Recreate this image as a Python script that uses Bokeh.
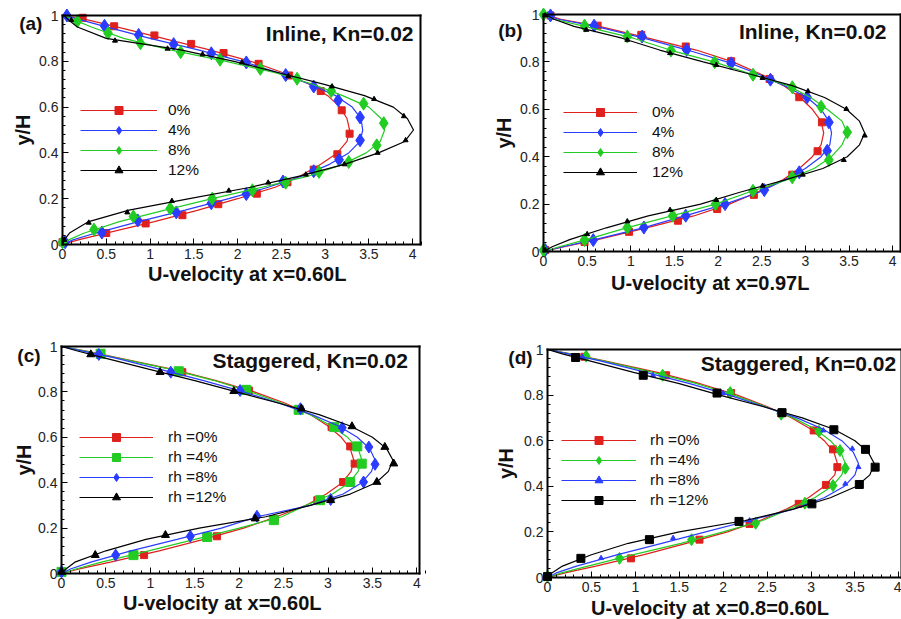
import math
from bokeh.plotting import figure
from bokeh.layouts import column, row
from bokeh.models import Range1d, FixedTicker, Label, LinearAxis
from bokeh.embed import file_html
from bokeh.resources import INLINE

FONT = "Liberation Sans"

# ---------------- data ----------------
Y_LINE = [1.0, 0.98, 0.95, 0.9, 0.85, 0.8, 0.75, 0.7, 0.65, 0.6, 0.55, 0.5,
          0.45, 0.4, 0.35, 0.3, 0.25, 0.2, 0.15, 0.1, 0.05, 0.02, 0.0]

X_TICKS = [0, 0.5, 1, 1.5, 2, 2.5, 3, 3.5, 4]
X_TICK_LABELS = ["0", "0.5", "1", "1.5", "2", "2.5", "3", "3.5", "4"]
Y_TICKS = [0, 0.2, 0.4, 0.6, 0.8, 1]
Y_TICK_LABELS = ["0", "0.2", "0.4", "0.6", "0.8", "1"]
X_MINOR = [round(i * 0.1, 1) for i in range(42)]
Y_MINOR = [round(i * 0.04, 2) for i in range(26)]

LABELS_AB = ["0%", "4%", "8%", "12%"]
LABELS_CD = ["rh =0%", "rh =4%", "rh =8%", "rh =12%"]

# panel (a) Inline, x=0.60L
A_U_0 = [0.02, 0.3, 0.62, 1.15, 1.68, 2.15, 2.52, 2.82, 3.03, 3.17, 3.25, 3.28, 3.25, 3.14, 2.95, 2.72, 2.43, 2.0, 1.55, 1.05, 0.5, 0.18, 0.0]
A_U_4 = [0.02, 0.22, 0.5, 1.0, 1.55, 2.05, 2.47, 2.83, 3.12, 3.31, 3.41, 3.43, 3.4, 3.27, 3.05, 2.75, 2.35, 1.9, 1.4, 0.87, 0.38, 0.12, 0.0]
A_U_8 = [0.02, 0.14, 0.33, 0.7, 1.23, 1.87, 2.43, 2.86, 3.2, 3.5, 3.64, 3.68, 3.63, 3.47, 3.2, 2.82, 2.28, 1.71, 1.17, 0.65, 0.25, 0.07, 0.0]
A_U_12 = [0.02, 0.07, 0.17, 0.5, 1.35, 1.96, 2.47, 2.98, 3.45, 3.78, 3.94, 4.01, 3.91, 3.61, 3.22, 2.72, 2.15, 1.45, 0.76, 0.3, 0.08, 0.02, 0.0]
A_MU_0 = [0.23, 0.59, 1.05, 1.47, 1.84, 2.24, 2.59, 2.95, 3.19, 3.28, 3.14, 2.87, 2.57, 2.22, 1.78, 1.37, 0.95, 0.5, 0.0]
A_MY_0 = [0.99, 0.953, 0.913, 0.876, 0.836, 0.789, 0.738, 0.67, 0.586, 0.484, 0.394, 0.327, 0.272, 0.222, 0.176, 0.128, 0.092, 0.05, 0.01]
A_MU_4 = [0.05, 0.48, 0.87, 1.27, 1.7, 2.1, 2.55, 2.87, 3.15, 3.4, 3.4, 3.16, 2.87, 2.52, 2.1, 1.7, 1.3, 0.86, 0.45, 0.03]
A_MY_4 = [1.0, 0.955, 0.915, 0.875, 0.835, 0.795, 0.74, 0.69, 0.63, 0.555, 0.455, 0.37, 0.32, 0.275, 0.22, 0.18, 0.14, 0.105, 0.052, 0.01]
A_MU_8 = [0.17, 0.52, 0.89, 1.35, 1.8, 2.26, 2.68, 3.07, 3.44, 3.67, 3.59, 3.27, 2.93, 2.55, 2.17, 1.71, 1.23, 0.81, 0.36, 0.0]
A_MY_8 = [0.975, 0.923, 0.879, 0.84, 0.807, 0.767, 0.724, 0.67, 0.615, 0.53, 0.433, 0.36, 0.317, 0.27, 0.237, 0.2, 0.157, 0.122, 0.065, 0.01]
A_MU_12 = [0.1, 0.6, 1.2, 1.6, 2.05, 2.58, 3.08, 3.56, 3.9, 3.92, 3.6, 3.22, 2.78, 2.35, 1.9, 1.25, 0.74, 0.3, 0.02]
A_MY_12 = [0.98, 0.89, 0.855, 0.83, 0.795, 0.735, 0.69, 0.635, 0.56, 0.455, 0.4, 0.35, 0.305, 0.27, 0.235, 0.19, 0.14, 0.095, 0.02]

# panel (b) Inline, x=0.97L
B_U_0 = [0.02, 0.2, 0.64, 1.2, 1.75, 2.17, 2.48, 2.75, 2.94, 3.08, 3.18, 3.21, 3.18, 3.08, 2.93, 2.73, 2.45, 2.13, 1.72, 1.18, 0.62, 0.24, 0.0]
B_U_4 = [0.02, 0.17, 0.6, 1.15, 1.65, 2.1, 2.45, 2.76, 3.02, 3.18, 3.27, 3.3, 3.28, 3.18, 3.0, 2.75, 2.47, 2.08, 1.62, 1.14, 0.59, 0.22, 0.0]
B_U_8 = [0.0, 0.12, 0.47, 1.03, 1.45, 1.95, 2.37, 2.8, 3.06, 3.25, 3.42, 3.48, 3.42, 3.3, 3.1, 2.77, 2.35, 1.97, 1.47, 0.95, 0.49, 0.18, 0.0]
B_U_12 = [0.02, 0.12, 0.35, 0.9, 1.33, 1.83, 2.35, 2.85, 3.22, 3.47, 3.62, 3.68, 3.62, 3.48, 3.2, 2.75, 2.25, 1.8, 1.2, 0.72, 0.3, 0.1, 0.0]
B_MU_0 = [0.08, 0.62, 1.12, 1.63, 2.15, 2.59, 2.93, 3.19, 3.14, 2.85, 2.41, 1.99, 1.54, 0.98, 0.47, 0.02]
B_MY_0 = [0.996, 0.953, 0.914, 0.865, 0.803, 0.728, 0.651, 0.545, 0.423, 0.324, 0.239, 0.179, 0.13, 0.083, 0.04, 0.006]
B_MU_4 = [0.08, 0.58, 1.13, 1.64, 2.15, 2.6, 3.02, 3.27, 3.25, 2.93, 2.53, 2.08, 1.63, 1.15, 0.57, 0.02]
B_MY_4 = [0.996, 0.953, 0.907, 0.851, 0.794, 0.725, 0.651, 0.545, 0.425, 0.334, 0.259, 0.2, 0.151, 0.101, 0.048, 0.006]
B_MU_8 = [0.0, 0.47, 0.96, 1.46, 1.96, 2.4, 2.85, 3.18, 3.48, 3.27, 2.85, 2.4, 1.97, 1.48, 0.96, 0.47, 0.0]
B_MY_8 = [1.0, 0.953, 0.907, 0.848, 0.799, 0.746, 0.693, 0.611, 0.503, 0.386, 0.313, 0.256, 0.2, 0.151, 0.101, 0.048, 0.005]
B_MU_12 = [0.02, 0.49, 0.96, 1.45, 1.98, 2.51, 3.03, 3.47, 3.68, 3.44, 2.97, 2.51, 1.98, 1.45, 0.96, 0.5, 0.02]
B_MY_12 = [0.996, 0.935, 0.893, 0.837, 0.787, 0.732, 0.676, 0.601, 0.489, 0.386, 0.324, 0.277, 0.217, 0.175, 0.127, 0.073, 0.006]

# panel (c) Staggered, x=0.60L
C_U_0 = [0.0, 0.28, 0.64, 1.24, 1.74, 2.17, 2.52, 2.8, 3.0, 3.15, 3.25, 3.29, 3.26, 3.16, 2.98, 2.75, 2.42, 2.05, 1.6, 1.1, 0.55, 0.2, 0.0]
C_U_4 = [0.0, 0.27, 0.62, 1.22, 1.72, 2.13, 2.48, 2.8, 3.04, 3.22, 3.34, 3.38, 3.34, 3.24, 3.05, 2.75, 2.48, 2.0, 1.5, 0.98, 0.45, 0.16, 0.0]
C_U_8 = [0.0, 0.24, 0.6, 1.1, 1.6, 2.05, 2.45, 2.82, 3.12, 3.33, 3.47, 3.53, 3.49, 3.38, 3.17, 2.8, 2.2, 1.8, 1.3, 0.78, 0.33, 0.1, 0.0]
C_U_12 = [0.0, 0.18, 0.48, 0.98, 1.5, 1.97, 2.45, 2.9, 3.25, 3.5, 3.66, 3.73, 3.68, 3.54, 3.25, 2.8, 2.3, 1.55, 0.95, 0.5, 0.15, 0.05, 0.0]
C_MU_0 = [0.44, 1.36, 2.11, 2.67, 3.04, 3.25, 3.3, 3.17, 2.88, 2.4, 1.75, 0.93, 0.0]
C_MY_0 = [0.968, 0.887, 0.806, 0.721, 0.645, 0.56, 0.484, 0.403, 0.323, 0.24, 0.164, 0.081, 0.007]
C_MU_4 = [0.44, 1.32, 2.08, 2.67, 3.07, 3.33, 3.38, 3.25, 2.91, 2.39, 1.64, 0.81, 0.0]
C_MY_4 = [0.968, 0.891, 0.809, 0.721, 0.645, 0.56, 0.484, 0.403, 0.323, 0.235, 0.161, 0.081, 0.007]
C_MU_8 = [0.42, 1.23, 2.01, 2.69, 3.16, 3.46, 3.53, 3.4, 3.03, 2.2, 1.45, 0.61, 0.0]
C_MY_8 = [0.965, 0.887, 0.806, 0.726, 0.642, 0.557, 0.481, 0.403, 0.326, 0.252, 0.164, 0.081, 0.007]
C_MU_12 = [0.33, 1.11, 1.94, 2.7, 3.27, 3.64, 3.74, 3.55, 3.03, 2.18, 1.17, 0.38, 0.0]
C_MY_12 = [0.965, 0.887, 0.803, 0.726, 0.648, 0.557, 0.484, 0.403, 0.323, 0.242, 0.169, 0.081, 0.007]

# panel (d) Staggered, x=0.8=0.60L
D_U_0 = [0.0, 0.28, 0.65, 1.25, 1.74, 2.16, 2.5, 2.78, 3.0, 3.15, 3.26, 3.3, 3.27, 3.15, 2.97, 2.72, 2.42, 2.05, 1.58, 1.1, 0.55, 0.2, 0.0]
D_U_4 = [0.0, 0.27, 0.63, 1.2, 1.7, 2.12, 2.48, 2.8, 3.05, 3.22, 3.34, 3.39, 3.35, 3.24, 3.04, 2.75, 2.45, 2.0, 1.52, 0.98, 0.46, 0.16, 0.0]
D_U_8 = [0.0, 0.25, 0.6, 1.12, 1.62, 2.07, 2.46, 2.84, 3.14, 3.35, 3.48, 3.54, 3.5, 3.38, 3.15, 2.8, 2.3, 1.8, 1.3, 0.8, 0.33, 0.1, 0.0]
D_U_12 = [0.0, 0.18, 0.48, 0.98, 1.5, 1.96, 2.45, 2.9, 3.26, 3.5, 3.65, 3.72, 3.67, 3.52, 3.22, 2.8, 2.25, 1.5, 0.92, 0.5, 0.17, 0.05, 0.0]
D_MU_0 = [0.42, 1.35, 2.09, 2.66, 3.03, 3.25, 3.3, 3.17, 2.86, 2.3, 1.73, 0.95, 0.0]
D_MY_0 = [0.968, 0.887, 0.809, 0.72, 0.645, 0.562, 0.484, 0.406, 0.323, 0.235, 0.166, 0.084, 0.005]
D_MU_4 = [0.44, 1.31, 2.08, 2.66, 3.09, 3.33, 3.39, 3.25, 2.93, 2.37, 1.64, 0.82, 0.0]
D_MY_4 = [0.971, 0.887, 0.811, 0.716, 0.641, 0.557, 0.479, 0.403, 0.326, 0.238, 0.166, 0.084, 0.005]
D_MU_8 = [0.4, 1.2, 2.0, 2.64, 3.14, 3.47, 3.54, 3.39, 3.0, 2.3, 1.43, 0.61, 0.0]
D_MY_8 = [0.966, 0.887, 0.808, 0.726, 0.645, 0.565, 0.484, 0.411, 0.33, 0.25, 0.173, 0.085, 0.005]
D_MU_12 = [0.32, 1.09, 1.93, 2.67, 3.26, 3.62, 3.73, 3.55, 3.01, 2.18, 1.16, 0.38, 0.0]
D_MY_12 = [0.965, 0.887, 0.809, 0.723, 0.648, 0.562, 0.484, 0.408, 0.323, 0.246, 0.166, 0.084, 0.004]

# ---------------- styles ----------------
RED = "#e0201c"
BLUE = "#2a3cff"
GREEN = "#22cc22"
BLACK = "#000000"
TXT = "#111111"


def style_axis(ax, ticks, minor, labels):
    ax.ticker = FixedTicker(ticks=ticks, minor_ticks=minor)
    if labels:
        ax.major_label_overrides = dict(zip(ticks, labels))
    ax.axis_line_color = "black"
    ax.axis_line_width = 2
    ax.axis_line_cap = "square"
    ax.major_tick_in = 6
    ax.major_tick_out = 0
    ax.minor_tick_in = 3
    ax.minor_tick_out = 0
    ax.major_tick_line_color = "black"
    ax.minor_tick_line_color = "black"
    ax.major_label_text_font = FONT
    ax.major_label_text_font_size = "14px"
    ax.major_label_text_color = "#222222"
    ax.major_label_standoff = 4


def add_text(p, x, y, text, size, align="center", angle=0.0):
    p.add_layout(Label(x=x, y=y, text=text, text_align=align,
                       text_baseline="middle", angle=angle, text_font=FONT,
                       text_font_size=size, text_font_style="bold",
                       text_color=TXT))


def panel(W, H, L, T, FW, FH, XR, series, legend_xy, glyph_w, standoff,
          tag, tag_xy, title, title_xy, xlabel, xlabel_xy, ylabel_x):
    ppx = FW / XR
    x0, x1 = -L / ppx, (W - L) / ppx
    y0, y1 = -(H - T - FH) / FH, 1 + T / FH
    p = figure(width=W, height=H, x_range=Range1d(x0, x1), y_range=Range1d(y0, y1),
               x_axis_type=None, y_axis_type=None,
               min_border_left=0, min_border_right=0, min_border_top=0, min_border_bottom=0,
               output_backend="svg", toolbar_location=None)
    p.outline_line_color = None
    p.background_fill_color = "white"
    p.border_fill_color = "white"

    xb = LinearAxis(fixed_location=0, bounds=(0, XR))
    style_axis(xb, X_TICKS, X_MINOR, X_TICK_LABELS)
    p.add_layout(xb, "below")
    yl = LinearAxis(fixed_location=0, bounds=(0, 1))
    style_axis(yl, Y_TICKS, Y_MINOR, Y_TICK_LABELS)
    p.add_layout(yl, "left")
    xt = LinearAxis(fixed_location=1, bounds=(0, XR))
    style_axis(xt, [], [], None)
    xt.major_label_text_alpha = 0
    p.add_layout(xt, "above")
    yr = LinearAxis(fixed_location=XR, bounds=(0, 1))
    style_axis(yr, [], [], None)
    yr.major_label_text_alpha = 0
    p.add_layout(yr, "right")

    for label, color, u, mu, my, marker, size in series:
        p.line(u, Y_LINE, line_color=color, line_width=1.2, legend_label=label)
        p.scatter(mu, my, marker=marker, size=size, fill_color=color,
                  line_color=color, legend_label=label)

    leg = p.legend[0]
    leg.location = (L + legend_xy[0], (H - T - FH) + legend_xy[1])
    leg.border_line_color = None
    leg.background_fill_alpha = 0
    leg.padding = 0
    leg.margin = 0
    leg.spacing = 0
    leg.glyph_width = glyph_w
    leg.glyph_height = 20
    leg.label_height = 20
    leg.label_standoff = standoff
    leg.label_text_font = FONT
    leg.label_text_font_size = "15.5px"
    leg.label_text_color = TXT

    add_text(p, tag_xy[0], tag_xy[1], tag, "19px", align="right")
    add_text(p, title_xy[0], title_xy[1], title, "21px", align="right")
    add_text(p, xlabel_xy[0], xlabel_xy[1], xlabel, "20px")
    add_text(p, ylabel_x, 0.5, "y/H", "20px", angle=math.pi / 2)
    return p


pa = panel(450, 300, 62, 15, 358, 229, 4.09,
           [(LABELS_AB[0], RED, A_U_0, A_MU_0, A_MY_0, "square", 7),
            (LABELS_AB[1], BLUE, A_U_4, A_MU_4, A_MY_4, "diamond", 13),
            (LABELS_AB[2], GREEN, A_U_8, A_MU_8, A_MY_8, "diamond", 13),
            (LABELS_AB[3], BLACK, A_U_12, A_MU_12, A_MY_12, "triangle", 5)],
           (18, 64), 77, 11,
           "(a)", (-0.23, 0.965), "Inline, Kn=0.02", (4.01, 0.921),
           "U-velocity at x=0.60L", (2.11, -0.127), -0.446)

pb = panel(451, 300, 93, 14, 357, 237, 4.09,
           [(LABELS_AB[0], RED, B_U_0, B_MU_0, B_MY_0, "square", 7),
            (LABELS_AB[1], BLUE, B_U_4, B_MU_4, B_MY_4, "diamond", 13),
            (LABELS_AB[2], GREEN, B_U_8, B_MU_8, B_MY_8, "diamond", 13),
            (LABELS_AB[3], BLACK, B_U_12, B_MU_12, B_MY_12, "triangle", 5)],
           (20, 69), 74, 15,
           "(b)", (-0.24, 0.932), "Inline, Kn=0.02", (3.93, 0.928),
           "U-velocity at x=0.97L", (1.91, -0.131), -0.458)

pc = panel(450, 319, 61, 46, 358, 227, 4.03,
           [(LABELS_CD[0], RED, C_U_0, C_MU_0, C_MY_0, "square", 7),
            (LABELS_CD[1], GREEN, C_U_4, C_MU_4, C_MY_4, "square", 9),
            (LABELS_CD[2], BLUE, C_U_8, C_MU_8, C_MY_8, "diamond", 12),
            (LABELS_CD[3], BLACK, C_U_12, C_MU_12, C_MY_12, "triangle", 8)],
           (18, 66), 74, 15,
           "(c)", (-0.236, 0.96), "Staggered, Kn=0.02", (3.9, 0.939),
           "U-velocity at x=0.60L", (1.81, -0.132), -0.427)

pd_ = panel(451, 319, 97, 49, 354, 228, 4.03,
            [(LABELS_CD[0], RED, D_U_0, D_MU_0, D_MY_0, "square", 7),
             (LABELS_CD[1], GREEN, D_U_4, D_MU_4, D_MY_4, "diamond", 12),
             (LABELS_CD[2], BLUE, D_U_8, D_MU_8, D_MY_8, "triangle", 5),
             (LABELS_CD[3], BLACK, D_U_12, D_MU_12, D_MY_12, "square", 8)],
            (14, 67), 75, 14,
            "(d)", (-0.17, 0.965), "Staggered, Kn=0.02", (3.97, 0.939),
            "U-velocity at x=0.8=0.60L", (1.85, -0.132), -0.478)

layout = column(row(pa, pb, spacing=0), row(pc, pd_, spacing=0), spacing=0)

with open("out.html", "w") as f:
    f.write(file_html(layout, INLINE))
